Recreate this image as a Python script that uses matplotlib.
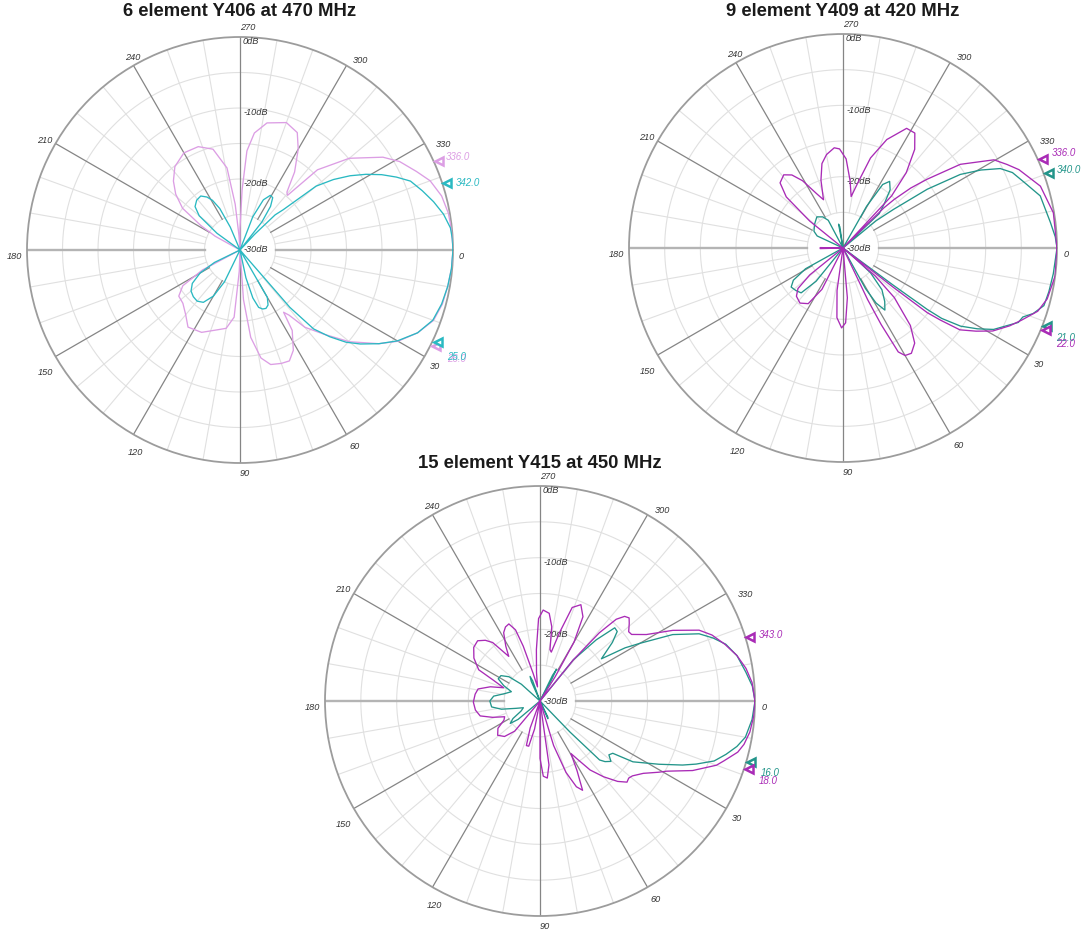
import numpy as np
import matplotlib
matplotlib.use("Agg")
import matplotlib.pyplot as plt

plt.rcParams['font.family'] = ['Liberation Sans', 'DejaVu Sans']

# ---------------- data (angle in degrees, clockwise from East; level in dB) ----------------
titles = ["6 element Y406 at 470 MHz", "9 element Y409 at 420 MHz", "15 element Y415 at 450 MHz"]

# Plot 1 : 6 element Y406
p1_cyan_ang = [0, 5, 10, 15, 20, 25, 30, 34, 38, 41, 44, 47, 49, 51, 57, 60, 63, 66, 69, 72, 75, 78, 82,
               112, 116, 120, 125, 130, 135, 140, 145, 150, 154, 158,
               212, 216, 220, 224, 229, 234, 238, 241, 244, 247, 250,
               287, 291, 295, 299, 302, 305, 308, 311,
               313, 315, 317, 320, 323, 326, 329, 332, 335, 338, 342, 346, 350, 354, 357, 360]
p1_cyan_db = [0, -0.1, -0.3, -0.6, -1.1, -2.4, -4.4, -6.4, -8.5, -10.2, -12.4, -14.8, -19.3, -30, -30, -22.3, -21.3, -21.0, -21.1, -21.5, -23, -26, -30,
              -30, -25, -22.5, -21, -20.6, -20.7, -21, -21.8, -23.5, -26, -30,
              -30, -26, -22.5, -21.2, -20.7, -20.6, -21.2, -22, -23.5, -26.5, -30,
              -30, -25, -22.2, -21.2, -21.3, -22.5, -25, -30,
              -27, -23, -21.7, -16, -13.5, -11.3, -9.3, -7.4, -5.7, -4.1, -3.0, -1.9, -0.9, -0.2, -0.05, 0]

p1_pink_ang = [0, 5, 10, 15, 20, 25, 30, 34, 40, 45, 50, 53, 55, 57, 62, 66, 70, 75, 79, 83, 86, 89,
               92, 95, 100, 106, 115, 124, 130, 137, 143, 148, 152, 156,
               206, 209, 212, 216, 221, 226, 232, 240, 248, 255, 261, 264, 266, 268,
               270, 272, 274, 277, 282, 290, 296, 300, 305, 309, 311,
               314, 320, 327, 331, 336, 340, 345, 350, 355, 360]
p1_pink_db = [0, -0.1, -0.3, -0.5, -1.0, -2.4, -4.3, -6.4, -9.9, -13.2, -15.8, -18.5, -19.3, -16.5, -14, -12.9, -13, -13.3, -14.5, -17.6, -23, -30,
              -27, -20.5, -18.8, -18.3, -17.2, -16.9, -18.1, -19, -19.2, -20.5, -24, -30,
              -30, -26, -23.5, -20, -18, -16.5, -15.1, -14.2, -14.3, -15.3, -18.3, -23.5, -28, -30,
              -27, -21.5, -16, -13.4, -11.7, -10.9, -11.6, -13.6, -16.6, -19.5, -19.8,
              -14.3, -9.9, -6.0, -4.3, -2.8, -1.5, -0.6, -0.2, -0.05, 0]

# Plot 2 : 9 element Y409
p2_mag_ang = [0, 7.5, 14, 18, 22, 25, 29, 32, 35, 36.5, 37.5, 38, 39, 41, 44, 49, 53, 57, 60, 62, 63.5, 64.5, 66,
              82, 85, 88, 91, 95, 98, 101,
              113, 117, 122, 128, 134, 138, 141, 144,
              176, 178.5, 181, 184,
              216, 219, 222, 226, 231, 235, 239, 244, 248, 252, 256, 260, 265, 268, 272, 276, 279,
              283, 287, 292, 298, 302, 306, 310, 313, 314.5,
              315.5, 316.5, 318.5, 320.7, 324.5, 329.7, 333, 336, 342.6, 350.5, 360]
p2_mag_db = [0, 0, -0.5, -1.3, -3.0, -4.2, -6, -8, -10, -13, -15.1, -21, -30, -24, -20, -15.6, -13.3, -12.4, -12.6, -13.5, -18, -22, -30,
             -30, -23, -19.5, -18.8, -20.2, -24, -30,
             -30, -23.5, -20.8, -20.2, -20.6, -21.5, -24, -30,
             -30, -26.8, -26.8, -30,
             -30, -24, -19.3, -17.3, -16.8, -17.5, -19, -21.5, -22.7, -20, -17.8, -16.7, -15.9, -16.1, -17.5, -20.5, -22.7,
             -20.5, -16.8, -13.6, -11, -11, -12.9, -16.2, -20, -30,
             -22, -20.1, -17.3, -14.8, -9.8, -5.5, -4.2, -3.0, -1.0, -0.1, 0]

p2_teal_ang = [0, 7, 12, 16, 19, 21, 23, 28.4, 31, 33.6, 35.5, 36.1, 36.5, 37.5, 40, 42, 47, 52, 56, 59, 61, 63,
               125, 129, 133, 138, 143, 147, 151, 155,
               200, 205, 210, 220, 230, 237, 242, 246,
               257, 259.5, 261.5, 264,
               296, 299.5, 302, 305, 309, 313, 316.5, 318.5,
               320.5, 322.6, 325.1, 327.9, 330.5, 333.2, 336, 340, 345.2, 353, 357, 360]
p2_teal_db = [0, -0.3, -0.5, -0.7, -1.8, -3.0, -3.3, -6, -8, -10.2, -13, -15.4, -21.3, -30, -28, -24.8, -22, -20.5, -19.5, -21, -23.5, -30,
              -30, -24, -21.4, -21.1, -20.9, -21.7, -24, -30,
              -30, -26, -25.3, -24.8, -24.3, -24.8, -25.6, -30,
              -30, -26.6, -27, -30,
              -30, -23.3, -19.5, -18.6, -19.5, -21.5, -23, -30,
              -24, -21.1, -15.6, -10.6, -7.8, -5.3, -4.0, -3.0, -1.4, -0.7, -0.2, 0]

# Plot 3 : 15 element Y415
p3_mag_ang = [0, 4, 8.4, 12, 14.5, 18, 20, 24.5, 29, 31, 35, 39, 41, 43, 46, 50, 54, 57, 59.5, 62, 64.5, 67, 70, 73, 76,
              79, 82, 84.6, 87.5, 90, 92.5, 99, 101, 104, 107, 110, 113,
              126, 130, 135, 141, 147, 152, 156, 161, 166, 172, 179, 186, 191, 196, 200,
              204, 207, 213, 219, 224, 228, 231, 235, 238, 242, 245, 248, 251, 253, 256, 260,
              263, 266, 269, 272, 276, 279, 281, 283, 286, 289, 293, 297, 300, 302, 304, 308,
              309, 311, 313, 315, 317, 319, 322, 324, 328, 332, 336, 339, 343, 347, 351, 355, 360]
p3_mag_db = [0, -0.1, -0.4, -0.9, -1.5, -3.0, -3.8, -6.6, -9.8, -10.7, -12.4, -13.4, -13.6, -13.4, -14.4, -16.2, -18.1, -20.2, -21.5, -19, -16.2, -17, -19.4, -23.5, -30,
             -30, -21, -19.2, -19.5, -22, -30, -30, -26, -23.5, -23.5, -26, -30,
             -30, -24.5, -23, -22.4, -23, -24.3, -24.6, -23, -21.4, -20.9, -20.7, -20.9, -21.2, -22.8, -24.6,
             -22.9, -20.4, -19, -18.1, -17.9, -18.6, -19.5, -22.4, -21, -19.2, -18.6, -18.4, -19.5, -22, -26, -28,
             -26, -22.8, -18.5, -17.3, -17.7, -19.5, -22.7, -23, -20, -16.2, -15.4, -16.8, -20.5, -26, -30, -30,
             -22.6, -17.4, -14.4, -13.3, -13, -13.5, -14.3, -14.2, -12.5, -9, -5.7, -4.3, -3, -1.8, -0.9, -0.3, 0]

p3_teal_ang = [0, 5, 10, 13, 16, 19, 22, 24.2, 28, 33.2, 35.7, 38, 40.4, 43, 44.7, 46, 47,
               62, 64, 66, 68,
               135, 140, 143, 147, 152, 158, 163, 168, 173, 180, 186, 192, 198, 203, 208, 213, 218, 222, 226,
               244, 246, 248, 250, 252,
               294, 296, 297.5, 299, 301, 305,
               309, 312.6, 315.6, 318, 321, 325.5, 328, 330, 333.4, 337.1, 340, 343, 347, 352, 356, 360]
p3_teal_db = [0, -0.3, -0.9, -1.8, -3.0, -4.3, -6.5, -8.2, -11.2, -14.5, -17.5, -17.8, -17, -17.6, -18.3, -24, -30,
              -30, -27.5, -27.3, -30,
              -30, -26, -24.8, -25.5, -27, -27.5, -26.5, -24.5, -23.2, -23, -23.5, -25, -25.8, -24.5, -23.4, -23.5, -24.5, -26.5, -30,
              -30, -27, -26.3, -27, -30,
              -30, -26, -25, -27, -30, -30,
              -22.6, -18.4, -15.4, -15.5, -17, -19.6, -16, -13.9, -9.3, -5.9, -4.3, -2.9, -1.8, -1, -0.3, 0]

# -3 dB beamwidth markers (angle, label)
p1_marks_pink = [336.0, 26.0]
p1_marks_cyan = [342.0, 25.0]
p2_marks_mag = [336.0, 22.0]
p2_marks_teal = [340.0, 21.0]
p3_marks_mag = [343.0, 18.0]
p3_marks_teal = [16.0]

tick_angles = [0, 30, 60, 90, 120, 150, 180, 210, 240, 270, 300, 330]
ring_labels = [0, -10, -20, -30]

# ---------------- styling ----------------
PINK, CYAN = '#dc9ee4', '#2ab9c2'
MAG, TEAL = '#a92bb6', '#23958a'
W, H = 1084, 930
fig = plt.figure(figsize=(W / 100, H / 100), dpi=100)
fig.patch.set_facecolor('white')

# measured label placement (angle, radius fraction) for the angle ticks
tick_pos = {0: (1.7, 1.041), 30: (30.8, 1.066), 60: (59.7, 1.069), 90: (88.7, 1.048),
            120: (117.4, 1.070), 150: (147.8, 1.082), 180: (178.3, 1.061), 210: (209.4, 1.052),
            240: (240.9, 1.036), 270: (272.0, 1.043), 300: (302.6, 1.054), 330: (332.5, 1.075)}


def make_polar(cx, cy, R, title, ty):
    ax = fig.add_axes([(cx - R) / W, (H - cy - R) / H, 2 * R / W, 2 * R / H], projection='polar')
    ax.set_theta_zero_location('E')
    ax.set_theta_direction(-1)
    ax.set_ylim(-30, 0)
    ax.set_xticks([])
    ax.set_yticks([])
    ax.grid(False)
    ax.spines['polar'].set_color('#9c9c9c')
    ax.spines['polar'].set_linewidth(1.3)
    th = np.linspace(0, 2 * np.pi, 721)
    for r in [-25, -20, -15, -10, -5]:
        ax.plot(th, np.full_like(th, r), color='#e0e0e0', lw=0.8, zorder=1)
    for a in range(0, 360, 10):
        t = np.deg2rad(a)
        if a in (0, 180):
            ax.plot([t, t], [-25, 0], color='#b4b4b4', lw=1.7, zorder=1.5)
        elif a in (90, 270):
            ax.plot([t, t], [-30, 0], color='#858585', lw=0.9, zorder=1.5)
        elif a % 30 == 0:
            ax.plot([t, t], [-25, 0], color='#858585', lw=0.9, zorder=1.5)
        else:
            ax.plot([t, t], [-25, 0], color='#e0e0e0', lw=0.8, zorder=1)
    for a in tick_angles:
        ta, fr = tick_pos[a]
        ax.text(np.deg2rad(ta), -30 + 30 * fr, str(a), ha='center', va='center',
                fontsize=6.6, style='italic', color='#333333', clip_on=False)
    for r in ring_labels:
        dy = 0 if r == -30 else -3.5
        ax.annotate(f"{r}dB", xy=(np.deg2rad(270), r), xytext=(2.2, dy), textcoords='offset points',
                    ha='left', va='center', fontsize=6.6, style='italic', color='#333333',
                    annotation_clip=False)
    fig.text(cx / W, 1 - ty / H, title, ha='center', va='center', fontsize=13.3, fontweight='bold',
             color='#1a1a1a')
    return ax


def draw_curve(ax, ang, db, color, lw=0.95):
    assert len(ang) == len(db)
    ax.plot(np.deg2rad(ang), np.clip(db, -30, 0), color=color, lw=lw, zorder=3)


def draw_marks(ax, angs, color, offsets):
    for a, off in zip(angs, offsets):
        ax.plot([np.deg2rad(a)], [0.7], marker='<', ms=5.5, mfc='white', mec=color, mew=1.8,
                clip_on=False, zorder=5)
        ax.annotate(f"{a:.1f}", xy=(np.deg2rad(a), 0.7), xytext=off, textcoords='offset points',
                    ha='left', va='center', fontsize=7, style='italic', color=color,
                    annotation_clip=False, zorder=6)


ax1 = make_polar(240, 250, 213, titles[0], 12)
draw_curve(ax1, p1_pink_ang, p1_pink_db, PINK)
draw_curve(ax1, p1_cyan_ang, p1_cyan_db, CYAN)
draw_marks(ax1, p1_marks_pink, PINK, [(5, 3), (8, -10)])
draw_marks(ax1, p1_marks_cyan, CYAN, [(6, 0), (7, -11)])

ax2 = make_polar(843, 248, 214, titles[1], 12)
draw_curve(ax2, p2_teal_ang, p2_teal_db, TEAL)
draw_curve(ax2, p2_mag_ang, p2_mag_db, MAG)
draw_marks(ax2, p2_marks_teal, TEAL, [(6, 2), (6, -8)])
draw_marks(ax2, p2_marks_mag, MAG, [(6, 4), (7, -10)])

ax3 = make_polar(540, 701, 215, titles[2], 463)
draw_curve(ax3, p3_teal_ang, p3_teal_db, TEAL)
draw_curve(ax3, p3_mag_ang, p3_mag_db, MAG)
draw_marks(ax3, p3_marks_teal, TEAL, [(7, -8)])
draw_marks(ax3, p3_marks_mag, MAG, [(6, 1), (7, -9)])

fig.savefig("out.png", dpi=100, facecolor='white')
